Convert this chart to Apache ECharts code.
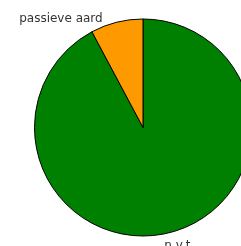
<!DOCTYPE html>
<html>
<head>
<meta charset="utf-8">
<script src="https://cdn.jsdelivr.net/npm/echarts@6/dist/echarts.min.js"></script>
<style>
    html, body { margin: 0; padding: 0; background: #fff; }
    #container { width: 241px; height: 246px; }
</style>
</head>
<body>
<div id="container"></div>
<script>
var labels = ['n.v.t.', 'passieve aard'];
var values = [92.2, 7.8];
var colors = ['#008000', '#FF9900'];

var chartDom = document.getElementById('container');
var myChart = echarts.init(chartDom);
var option;

// small nudges so the labels sit where the original put them
var labelShift = [
    { dx: -11, dy: 9 },
    { dx: -8, dy: 1 }
];

option = {
    backgroundColor: '#ffffff',
    animation: false,
    series: [
        {
            type: 'pie',
            center: [143, 127.5],
            radius: 108.5,
            startAngle: 90,
            clockwise: true,
            avoidLabelOverlap: false,
            data: labels.map(function (name, i) {
                return {
                    name: name,
                    value: values[i],
                    itemStyle: { color: colors[i] }
                };
            }),
            itemStyle: {
                borderColor: '#000000',
                borderWidth: 1
            },
            label: {
                show: true,
                position: 'outside',
                fontSize: 12,
                fontFamily: 'DejaVu Sans, sans-serif',
                color: '#333333'
            },
            labelLine: {
                show: false,
                length: 4,
                length2: 0
            },
            labelLayout: function (params) {
                return labelShift[params.dataIndex];
            }
        }
    ]
};

option && myChart.setOption(option);
</script>
</body>
</html>
